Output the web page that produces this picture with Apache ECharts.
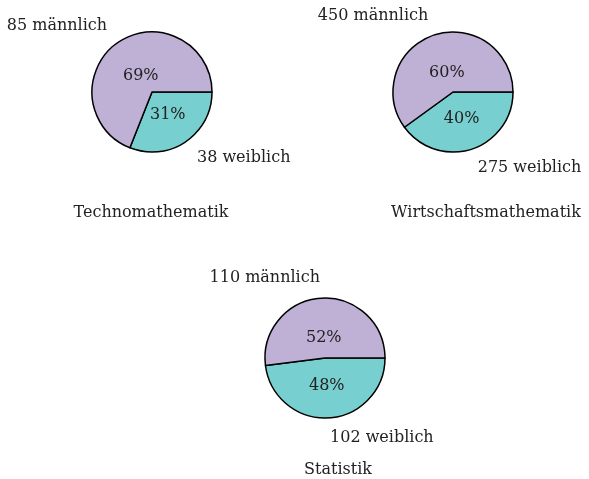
<!DOCTYPE html>
<html>
<head>
<meta charset="utf-8">
<script src="https://cdn.jsdelivr.net/npm/echarts@6/dist/echarts.min.js"></script>
<style>
  html, body { margin: 0; padding: 0; background: #fff; }
  #chart { width: 589px; height: 479px; }
</style>
</head>
<body>
<div id="chart"></div>
<script>
// Studiengänge und Anteile (in Prozent, wie im Kreis gezeichnet)
const studiengaenge = ['Technomathematik', 'Wirtschaftsmathematik', 'Statistik'];
const prozentWeiblich = [31, 40, 48];
const prozentMaennlich = [69, 60, 52];
// absolute Zahlen für die äußeren Beschriftungen
const anzahlWeiblich = [38, 275, 102];
const anzahlMaennlich = [85, 450, 110];

const centers = [[152, 92], [453, 92], [325, 358]];
const titlePos = [[151, 205], [486, 205], [338, 462]];
const font = 'DejaVu Serif';
const farbeM = '#bfb0d6';
const farbeW = '#78cfd0';

const chart = echarts.init(document.getElementById('chart'));

// unsichtbarer Kreis, der nur die Prozentzahl eines Stücks zeigt
function innenLabels(i, radius, welches) {
  return {
    type: 'pie',
    center: centers[i],
    radius: radius,
    startAngle: 0,
    clockwise: true,
    silent: true,
    itemStyle: { color: 'rgba(0,0,0,0)', borderWidth: 0 },
    label: {
      position: 'inside',
      fontFamily: font,
      fontSize: 16,
      color: '#222',
      formatter: p => p.value + '%'
    },
    labelLine: { show: false },
    emphasis: { disabled: true },
    data: [
      { name: 'weiblich', value: prozentWeiblich[i], label: { show: welches === 'weiblich' } },
      { name: 'männlich', value: prozentMaennlich[i], label: { show: welches === 'männlich' } }
    ]
  };
}

const series = [];
const titles = [];
studiengaenge.forEach((name, i) => {
  series.push({
    type: 'pie',
    center: centers[i],
    radius: 60,
    startAngle: 0,
    clockwise: true,
    avoidLabelOverlap: false,
    silent: true,
    itemStyle: { borderColor: '#000', borderWidth: 1.5 },
    label: {
      position: 'outside',
      distanceToLabelLine: 0,
      fontFamily: font,
      fontSize: 16,
      color: '#222',
      formatter: p => p.data.anzahl + ' ' + p.name
    },
    labelLine: { show: false, length: 20, length2: 0 },
    emphasis: { disabled: true },
    data: [
      { name: 'weiblich', value: prozentWeiblich[i], anzahl: anzahlWeiblich[i], itemStyle: { color: farbeW } },
      { name: 'männlich', value: prozentMaennlich[i], anzahl: anzahlMaennlich[i], itemStyle: { color: farbeM } }
    ]
  });
  series.push(innenLabels(i, 50, 'weiblich'));
  series.push(innenLabels(i, 34, 'männlich'));
  titles.push({
    text: name,
    left: titlePos[i][0],
    top: titlePos[i][1],
    padding: 0,
    textAlign: 'center',
    textStyle: { fontFamily: font, fontSize: 16, fontWeight: 'normal', color: '#222' }
  });
});

chart.setOption({
  animation: false,
  title: titles,
  series: series
});
</script>
</body>
</html>
